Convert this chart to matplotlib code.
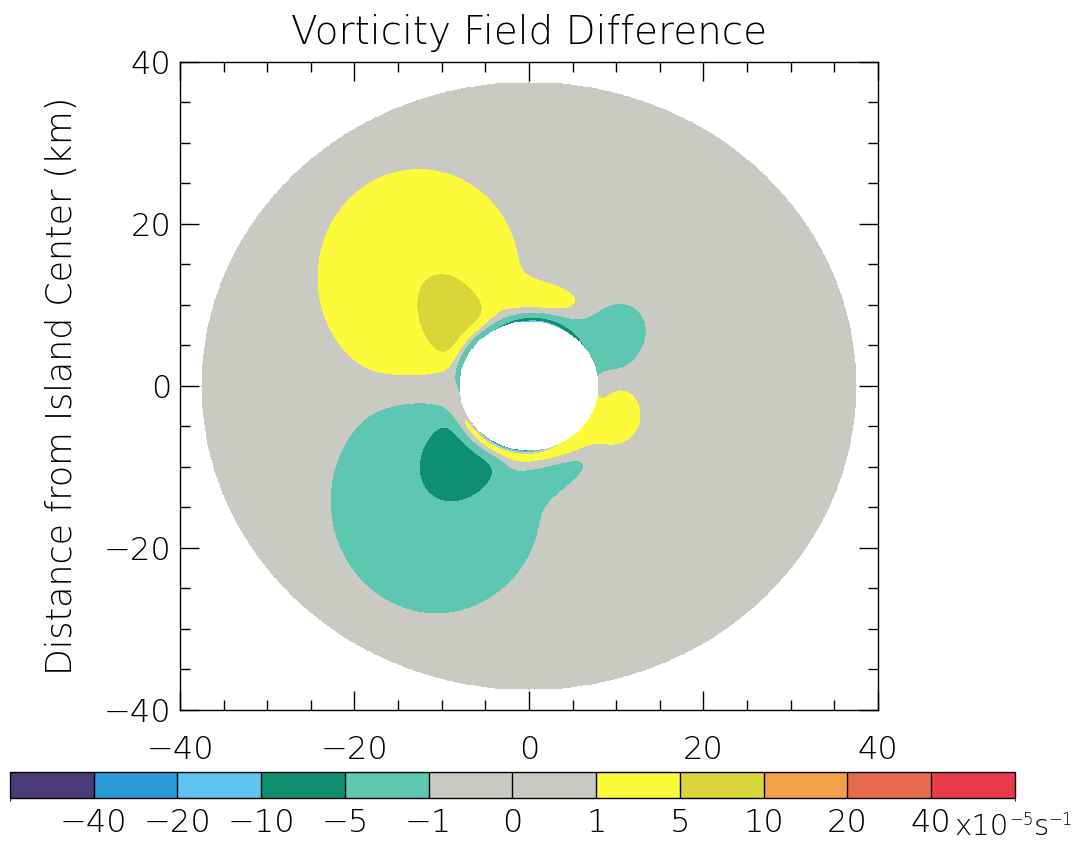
import numpy as np
import matplotlib.pyplot as plt
from matplotlib.colors import ListedColormap, BoundaryNorm
from matplotlib.ticker import MultipleLocator
from matplotlib import font_manager as fm
import matplotlib as mpl

# thin sans for all labels: take the lightest face of the first family that has one
font_name, font_weight = 'DejaVu Sans', 400
for fam in ['DejaVu Sans', 'Lato', 'Open Sans', 'Roboto', 'Inter', 'Noto Sans']:
    faces = [f for f in fm.fontManager.ttflist
             if f.name == fam and f.style == 'normal' and f.stretch == 'normal'
             and isinstance(f.weight, int) and 200 <= f.weight <= 300]
    if faces:
        font_name, font_weight = fam, min(f.weight for f in faces)
        break
plt.rcParams['font.family'] = [font_name, 'DejaVu Sans']
plt.rcParams['font.weight'] = font_weight
plt.rcParams['axes.titleweight'] = font_weight
plt.rcParams['axes.labelweight'] = font_weight
FS = 23

# colour classes (10^-5 s^-1)
levels = [-80, -40, -20, -10, -5, -1, 0, 1, 5, 10, 20, 40, 80]
level_labels = ['-40', '-20', '-10', '-5', '-1', '0', '1', '5', '10', '20', '40']
class_colors = ['#4b3a78', '#2a9bd9', '#5ec3ee', '#0f8f72', '#5ec7b2', '#c9cbc2',
                '#c9cbc2', '#fbfb3c', '#d9d63a', '#f2a04a', '#e86a4c', '#e83a4a']

domain_radius = 37.5   # km
island_radius = 8.0    # km
coast_gap = 2.0        # km, lee cells fade out towards the coast

# vorticity anomaly cells: centre (km), half widths (km), tilt (deg), peak, shape exponent
cell_x = [-12.6, 1.8, -8.2, -10.6, 3.2, -7.4, 9.6, 9.4]
cell_y = [13.4, 10.4, 7.4, -14.2, -10.4, -8.2, 6.0, -3.4]
cell_sx = [11.3, 4.6, 3.8, 11.9, 5.0, 4.6, 3.8, 3.0]
cell_sy = [13.0, 2.2, 6.6, 13.6, 2.3, 6.4, 3.0, 3.3]
cell_tilt = [0, -8, 25, 0, 30, -30, 55, 0]
cell_peak = [3.0, 3.0, 6.0, -3.0, -3.0, -6.0, -3.0, 2.8]
cell_power = [4, 2, 4, 4, 2, 4, 2, 2]

# bands hugging the island coast: azimuth (deg), angular width (deg), peak, e-folding (km)
rim_theta = [80, 40, 150, 240, 320, 250]
rim_width = [22, 25, 30, 35, 25, 25]
rim_peak = [-14.0, -3.0, -4.0, 4.0, 3.0, -12.0]
rim_decay = [0.45, 3.0, 0.9, 2.0, 2.5, 0.25]

x = np.linspace(-40, 40, 801)
y = np.linspace(-40, 40, 801)
X, Y = np.meshgrid(x, y)
R = np.hypot(X, Y)
TH = np.degrees(np.arctan2(Y, X)) % 360
dr = np.clip(R - island_radius, 0, None)

cells = np.zeros_like(X)
for cx, cy, sx, sy, tilt, a, p in zip(cell_x, cell_y, cell_sx, cell_sy,
                                       cell_tilt, cell_peak, cell_power):
    t = np.radians(tilt)
    u = (X - cx) * np.cos(t) + (Y - cy) * np.sin(t)
    v = -(X - cx) * np.sin(t) + (Y - cy) * np.cos(t)
    d = np.sqrt((u / sx) ** 2 + (v / sy) ** 2)
    cells += a * np.exp(-d ** p)
Z = cells * (1 - np.exp(-(dr / coast_gap) ** 2))

for th0, w, a, L in zip(rim_theta, rim_width, rim_peak, rim_decay):
    dth = (TH - th0 + 180) % 360 - 180
    Z += a * np.exp(-0.5 * (dth / w) ** 2) * np.exp(-dr / L)

Z[(R > domain_radius) | (R < island_radius)] = np.nan

cmap = ListedColormap(class_colors)
norm = BoundaryNorm(levels, cmap.N)

fig = plt.figure(figsize=(10.86, 8.41), dpi=100)
ax = fig.add_axes([0.1657, 0.1558, 0.6427, 0.7705])
ax.contourf(X, Y, Z, levels=levels, cmap=cmap, norm=norm)

ax.set_xlim(-40, 40)
ax.set_ylim(-40, 40)
ticks = [-40, -20, 0, 20, 40]
ax.set_xticks(ticks)
ax.set_yticks(ticks)
ax.set_xticklabels([str(v).replace('-', '\u2212') for v in ticks])
ax.set_yticklabels([str(v).replace('-', '\u2212') for v in ticks])
ax.xaxis.set_minor_locator(MultipleLocator(5))
ax.yaxis.set_minor_locator(MultipleLocator(5))
ax.tick_params(which='both', direction='in', top=True, right=True, width=1)
ax.tick_params(which='major', length=14, labelsize=FS)
ax.tick_params(which='minor', length=7)
ax.tick_params(axis='x', which='major', pad=18)
ax.tick_params(axis='y', which='major', pad=6)
for s in ax.spines.values():
    s.set_linewidth(1)
ax.set_title('Vorticity Field Difference', fontsize=28, pad=13)
ax.set_ylabel('Distance from Island Center (km)', fontsize=25, labelpad=18)

# colour key
cax = fig.add_axes([0.0092, 0.0511, 0.9254, 0.0309])
cb = mpl.colorbar.ColorbarBase(cax, cmap=cmap, norm=norm, boundaries=levels,
                               spacing='uniform', orientation='horizontal',
                               drawedges=True)
cb.outline.set_linewidth(1)
cb.dividers.set_linewidth(1)
cb.set_ticks(levels[1:-1])
cb.set_ticklabels([s.replace('-', '\u2212') for s in level_labels])
cax.tick_params(length=0, labelsize=FS, pad=7)

# unit after the last key label, with raised exponents
fig.canvas.draw()
renderer = fig.canvas.get_renderer()
last = cax.get_xticklabels()[-1].get_window_extent(renderer)
unit_parts = [('x10', 0, 21), ('\u22125', 10, 12), ('s', 0, 21), ('\u22121', 10, 12)]
x_px = last.x1 + 3
y_px = last.y0 + 3
for txt, rise, size in unit_parts:
    t = fig.text(x_px / fig.dpi / fig.get_figwidth(), (y_px + rise) / fig.dpi / fig.get_figheight(),
                 txt, fontsize=size, ha='left', va='baseline')
    x_px = t.get_window_extent(renderer).x1

fig.savefig('out.png', dpi=100)
